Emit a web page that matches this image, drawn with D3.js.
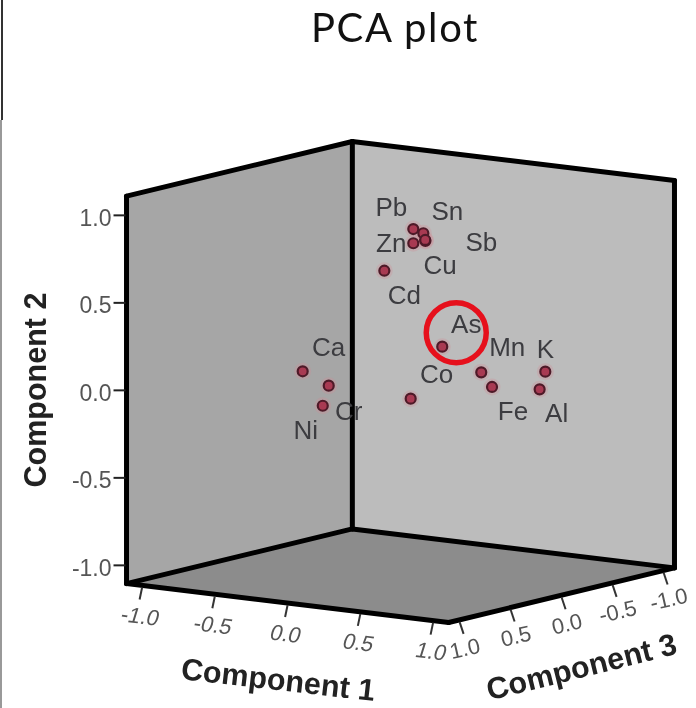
<!DOCTYPE html>
<html lang="en">
<head>
<meta charset="UTF-8">
<script src="https://d3js.org/d3.v7.min.js"></script>
<style>
  html, body { margin: 0; padding: 0; background: #fff; }
  svg { display: block; filter: blur(0.45px); }
  text { font-family: "Liberation Sans", Arial, sans-serif; }
</style>
</head>
<body>
<div id="chart_area"></div>
<script>
  // loadings
  var elements = ["Pb", "Sn", "Sb", "Cu", "Zn", "Cd", "As", "Co", "Mn", "Fe", "K", "Al", "Ca", "Cr", "Ni"];
  var comp1 = [0.158, 0.227, 0.241, 0.24, 0.158, -0.041, 0.357, 0.14, 0.555, 0.629, 0.855, 0.816, -0.462, -0.283, -0.324];
  var comp2 = [0.904, 0.887, 0.844, 0.85, 0.823, 0.646, 0.252, -0.067, 0.111, 0.035, 0.117, 0.012, 0.057, -0.007, -0.126];
  var comp3 = [0.1, 0.1, 0.1, 0.1, 0.1, 0.1, 0.1, 0.1, 0, 0, -0.2, -0.2, 0.3, 0.3, 0.3];
  var tickValues = [-1, -0.5, 0, 0.5, 1];
  var highlighted = "As";

  // where each label sits relative to its point
  var labelOffset = {
    Pb: [-22, -22], Sn: [24, -22], Sb: [56, 1], Cu: [15, 25], Zn: [-22, 0], Cd: [20, 24],
    As: [24, -23], Co: [26, -25], Mn: [26, -25], Fe: [21, 24], K: [0, -23], Al: [17, 24],
    Ca: [26, -24], Cr: [20, 25], Ni: [-17, 24]
  };

  var width = 696, height = 708;
  var boxMax = 1.107;

  // oblique projection of the 3d box
  var x1 = d3.scaleLinear().domain([-1, 1]).range([-145.5, 145.5]);
  var y1 = d3.scaleLinear().domain([-1, 1]).range([-17.6, 17.6]);
  var x3 = d3.scaleLinear().domain([-1, 1]).range([102, -102]);
  var y3 = d3.scaleLinear().domain([-1, 1]).range([-24.7, 24.7]);
  var y2 = d3.scaleLinear().domain([-1, 1]).range([175, -175]);

  function project(c1, c2, c3) {
    return [400.5 + x1(c1) + x3(c3), 382 + y1(c1) + y3(c3) + y2(c2)];
  }

  function face(corners) {
    return "M" + corners.map(function(c) { return project(c[0], c[1], c[2]).join(","); }).join("L") + "Z";
  }

  // the picture uses a plain hyphen, d3 would give a real minus
  function tickText(v) {
    return d3.format(".1f")(v).replace("\u2212", "-");
  }

  var m = boxMax;
  var svg = d3.select("#chart_area").append("svg")
    .attr("width", width)
    .attr("height", height);

  // leftover frame line of the slide
  svg.append("line").attr("x1", 2).attr("x2", 2).attr("y1", 0).attr("y2", 120)
    .attr("stroke", "#333").attr("stroke-width", 2);
  svg.append("line").attr("x1", 1).attr("x2", 1).attr("y1", 120).attr("y2", height)
    .attr("stroke", "#777").attr("stroke-width", 1.5);

  svg.append("text")
    .attr("x", 395).attr("y", 42)
    .attr("text-anchor", "middle")
    .style("font-family", "Lato, sans-serif")
    .style("font-size", "40px")
    .style("letter-spacing", "1.6px")
    .attr("fill", "#111")
    .text("PCA plot");

  // walls and floor
  svg.append("path").attr("d", face([[-m, -m, m], [-m, m, m], [-m, m, -m], [-m, -m, -m]])).attr("fill", "#a6a6a6");
  svg.append("path").attr("d", face([[-m, -m, -m], [-m, m, -m], [m, m, -m], [m, -m, -m]])).attr("fill", "#bcbcbc");
  svg.append("path").attr("d", face([[-m, -m, m], [-m, -m, -m], [m, -m, -m], [m, -m, m]])).attr("fill", "#8c8c8c");

  var edges = [
    [[-m, -m, m], [-m, m, m]], [[-m, m, m], [-m, m, -m]], [[-m, m, -m], [m, m, -m]], [[m, m, -m], [m, -m, -m]],
    [[-m, m, -m], [-m, -m, -m]], [[-m, -m, m], [-m, -m, -m]], [[-m, -m, -m], [m, -m, -m]],
    [[-m, -m, m], [m, -m, m]], [[m, -m, m], [m, -m, -m]]
  ];
  svg.append("g").selectAll("path").data(edges).enter().append("path")
    .attr("d", function(e) { return "M" + project(e[0][0], e[0][1], e[0][2]).join(",") + "L" + project(e[1][0], e[1][1], e[1][2]).join(","); })
    .attr("stroke", "#000")
    .attr("stroke-width", 5)
    .attr("stroke-linecap", "round")
    .attr("fill", "none");

  // component 2 axis, on the left edge
  var leftEdge = project(-m, 0, m);
  var axisY = d3.scaleLinear().domain([-1, 1]).range([leftEdge[1] + y2(-1), leftEdge[1] + y2(1)]);
  var gy = svg.append("g")
    .attr("transform", "translate(" + (leftEdge[0] - 1) + ",0)")
    .call(d3.axisLeft(axisY).tickValues(tickValues).tickFormat(tickText).tickSize(12).tickPadding(2));
  gy.select(".domain").remove();
  gy.selectAll(".tick line").attr("stroke", "#222").attr("stroke-width", 2);
  gy.selectAll(".tick text").attr("dy", "0.45em").style("font-size", "23px").attr("fill", "#555");

  // component 1 ticks, along the front left edge
  var g1 = svg.append("g");
  tickValues.forEach(function(v) {
    var p = project(v, -m, m);
    g1.append("line")
      .attr("x1", p[0]).attr("y1", p[1] + 2)
      .attr("x2", p[0] - 2.5).attr("y2", p[1] + 14)
      .attr("stroke", "#333").attr("stroke-width", 2);
    g1.append("text")
      .attr("transform", "translate(" + (p[0] - 4) + "," + (p[1] + 38) + ") rotate(7) skewX(-10)")
      .attr("text-anchor", "middle")
      .style("font-size", "22px")
      .attr("fill", "#555")
      .text(tickText(v));
  });

  // component 3 ticks, along the front right edge
  var g3 = svg.append("g");
  tickValues.forEach(function(v) {
    var p = project(m, -m, v);
    g3.append("line")
      .attr("x1", p[0]).attr("y1", p[1] + 2)
      .attr("x2", p[0] + 4).attr("y2", p[1] + 14)
      .attr("stroke", "#333").attr("stroke-width", 2);
    g3.append("text")
      .attr("transform", "translate(" + (p[0] + 7) + "," + (p[1] + 36) + ") rotate(-13)")
      .attr("text-anchor", "middle")
      .style("font-size", "22px")
      .attr("fill", "#555")
      .text(tickText(v));
  });

  // axis titles
  function axisTitle(label, x, y, angle) {
    svg.append("text")
      .attr("transform", "translate(" + x + "," + y + ") rotate(" + angle + ")")
      .attr("text-anchor", "middle")
      .style("font-size", "30.5px")
      .style("font-weight", "bold")
      .attr("fill", "#222")
      .text(label);
  }
  axisTitle("Component 2", 46, 390, -90);
  axisTitle("Component 1", 277, 690, 6.5);
  axisTitle("Component 3", 584, 677, -14);

  // points
  var points = elements.map(function(name, i) {
    return { name: name, pos: project(comp1[i], comp2[i], comp3[i]) };
  });

  // pink halo the compression left around the dots in the source
  svg.append("g").selectAll("circle").data(points).enter().append("circle")
    .attr("cx", function(d) { return d.pos[0]; })
    .attr("cy", function(d) { return d.pos[1]; })
    .attr("r", 8.5)
    .attr("fill", "#d08a96")
    .attr("fill-opacity", 0.3);

  svg.append("g").selectAll("circle").data(points).enter().append("circle")
    .attr("cx", function(d) { return d.pos[0]; })
    .attr("cy", function(d) { return d.pos[1]; })
    .attr("r", 5)
    .attr("fill", "#a83a52")
    .attr("stroke", "#4e1a28")
    .attr("stroke-width", 2.2);

  svg.append("g").selectAll("text").data(points).enter().append("text")
    .attr("x", function(d) { return d.pos[0] + labelOffset[d.name][0]; })
    .attr("y", function(d) { return d.pos[1] + labelOffset[d.name][1] + 9; })
    .attr("text-anchor", "middle")
    .style("font-size", "26px")
    .attr("fill", "#3c3c40")
    .text(function(d) { return d.name; });

  // red ring around As
  var asPoint = points.filter(function(d) { return d.name === highlighted; })[0];
  svg.append("circle")
    .attr("cx", asPoint.pos[0] + 14)
    .attr("cy", asPoint.pos[1] - 14)
    .attr("r", 30)
    .attr("fill", "none")
    .attr("stroke", "#e6101c")
    .attr("stroke-width", 5.5);
</script>
</body>
</html>
